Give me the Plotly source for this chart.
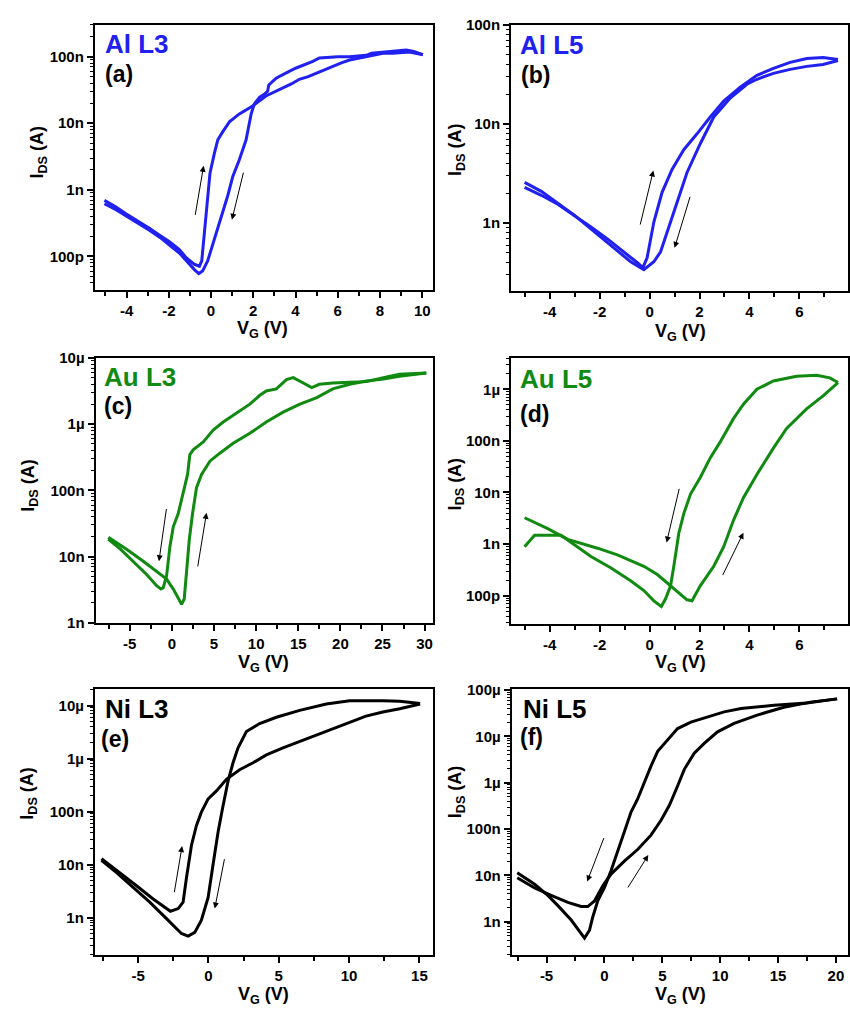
import math
import plotly.graph_objects as go

# ---------------- data (V_G in volts, log10 of I_DS in amperes) ----------------
# (a) Al L3
a_fwd_vg = [-5.05, -4.5, -4.03, -3.5, -2.92, -2.4, -1.97, -1.5, -1.18, -0.8, -0.55, -0.44, -0.32, -0.2, -0.05,
            0.16, 0.32, 0.55, 0.87, 1.34, 1.97, 2.6, 3.0, 3.4, 3.8, 4.18, 4.6, 4.97, 5.4, 5.77, 6.2, 6.56, 7.0,
            7.35, 7.8, 8.14, 8.6, 8.93, 9.4, 10.03]
a_fwd_log = [-9.16, -9.26, -9.36, -9.46, -9.58, -9.69, -9.78, -9.9, -10.02, -10.12, -10.15, -10.07, -9.63, -9.19,
             -8.75, -8.45, -8.25, -8.13, -7.98, -7.86, -7.74, -7.59, -7.53, -7.47, -7.41, -7.34, -7.3, -7.25, -7.19,
             -7.15, -7.09, -7.05, -7.02, -7.0, -6.97, -6.95, -6.95, -6.94, -6.93, -6.97]
a_bwd_vg = [10.03, 9.6, 9.24, 8.7, 8.14, 7.6, 7.35, 6.9, 6.56, 6.0, 5.5, 5.13, 4.82, 4.4, 4.03, 3.7, 3.4, 3.1, 2.92,
            2.73, 2.68, 2.5, 2.29, 2.05, 1.9, 1.66, 1.34, 1.03, 0.79, 0.47, 0.16, -0.16, -0.4, -0.58, -0.79, -1.18,
            -1.5, -1.97, -2.4, -2.92, -3.5, -4.03, -4.5, -5.05]
a_bwd_log = [-6.97, -6.92, -6.9, -6.92, -6.93, -6.95, -6.98, -6.99, -7.0, -7.0, -7.01, -7.02, -7.07, -7.12, -7.17,
             -7.22, -7.27, -7.32, -7.37, -7.43, -7.52, -7.57, -7.61, -7.71, -7.86, -8.25, -8.55, -8.8, -9.09, -9.43,
             -9.73, -10.07, -10.22, -10.26, -10.2, -10.07, -9.95, -9.83, -9.72, -9.61, -9.5, -9.39, -9.3, -9.21]

# (b) Al L5
b_fwd_vg = [-5.01, -4.34, -3.68, -3.02, -2.35, -1.69, -1.02, -0.49, -0.27, -0.1, 0.17, 0.5, 0.9, 1.37, 1.9, 2.43,
            2.97, 3.63, 4.3, 4.96, 5.63, 6.3, 6.95, 7.55]
b_fwd_log = [-8.64, -8.72, -8.81, -8.92, -9.04, -9.16, -9.29, -9.40, -9.45, -9.35, -8.99, -8.69, -8.46, -8.26, -8.1,
             -7.93, -7.77, -7.63, -7.51, -7.44, -7.38, -7.34, -7.33, -7.35]
b_bwd_vg = [7.55, 6.95, 6.3, 5.63, 4.96, 4.3, 3.9, 3.23, 2.57, 2.03, 1.5, 1.1, 0.7, 0.44, 0.17, -0.23, -0.76, -1.56,
            -2.35, -3.02, -3.68, -4.34, -5.01]
b_bwd_log = [-7.36, -7.4, -7.42, -7.45, -7.49, -7.55, -7.6, -7.74, -7.93, -8.2, -8.49, -8.79, -9.09, -9.29, -9.39,
             -9.47, -9.39, -9.22, -9.06, -8.92, -8.8, -8.68, -8.59]

# (c) Au L3
c_fwd_vg = [-7.55, -5.38, -3.4, -1.82, -0.63, 0.16, 0.75, 1.15, 1.46, 1.74, 2.06, 2.45, 2.92, 3.52, 4.51, 5.69, 7.27,
            9.25, 11.2, 13.2, 15.2, 17.2, 19.1, 21.1, 23.1, 25.1, 27.0, 30.2]
c_fwd_log = [-7.71, -7.89, -8.07, -8.23, -8.34, -8.49, -8.63, -8.72, -8.64, -8.24, -7.75, -7.35, -6.96, -6.76, -6.56,
             -6.44, -6.29, -6.14, -5.97, -5.82, -5.70, -5.6, -5.47, -5.4, -5.35, -5.32, -5.28, -5.23]
c_bwd_vg = [30.2, 27.0, 25.1, 23.1, 21.1, 19.1, 17.5, 16.6, 15.6, 14.4, 13.6, 12.4, 11.2, 10.4, 9.25, 7.27, 6.09,
            4.9, 3.72, 2.53, 2.13, 1.86, 1.26, 0.75, 0.16, -0.24, -0.63, -1.03, -1.3, -1.82, -3.0, -4.58, -6.17,
            -7.55]
c_bwd_log = [-5.23, -5.25, -5.3, -5.36, -5.37, -5.38, -5.4, -5.45, -5.38, -5.3, -5.33, -5.47, -5.5, -5.57, -5.7,
             -5.87, -5.97, -6.09, -6.27, -6.39, -6.46, -6.76, -7.06, -7.35, -7.55, -7.85, -8.29, -8.47, -8.49,
             -8.44, -8.27, -8.07, -7.88, -7.74]

# (d) Au L5
d_fwd_vg = [-5.01, -4.08, -3.28, -2.09, -1.29, -0.23, 0.31, 0.84, 1.5, 1.7, 2.03, 2.57, 2.97, 3.36, 3.76, 4.3, 4.96,
            5.49, 6.29, 6.95, 7.55]
d_fwd_log = [-8.49, -8.70, -8.91, -9.08, -9.21, -9.43, -9.59, -9.81, -10.08, -10.1, -9.81, -9.43, -9.05, -8.54, -8.1,
             -7.65, -7.14, -6.76, -6.38, -6.13, -5.87]
d_bwd_vg = [7.55, 7.22, 6.69, 5.89, 4.96, 4.3, 3.76, 3.36, 2.83, 2.43, 2.03, 1.64, 1.37, 1.17, 0.97, 0.84, 0.64,
            0.47, 0.17, -0.23, -0.76, -1.56, -2.35, -3.02, -3.55, -4.2, -4.61, -5.01]
d_bwd_log = [-5.87, -5.78, -5.73, -5.75, -5.84, -6.0, -6.29, -6.57, -7.02, -7.33, -7.71, -8.03, -8.41, -8.79, -9.43,
             -9.81, -10.06, -10.21, -10.1, -9.9, -9.71, -9.46, -9.24, -9.02, -8.83, -8.83, -8.83, -9.05]

# (e) Ni L3
e_fwd_vg = [-7.6, -6.3, -5.11, -3.93, -2.98, -2.7, -2.15, -1.8, -1.56, -1.2, -0.85, -0.5, -0.02, 0.57, 1.28, 2.22,
            3.17, 4.12, 5.3, 6.49, 7.67, 8.85, 10.04, 11.2, 12.4, 13.6, 15.05]
e_fwd_log = [-7.89, -8.15, -8.4, -8.65, -8.83, -8.88, -8.83, -8.71, -8.25, -7.63, -7.26, -7.01, -6.76, -6.61, -6.39,
             -6.21, -6.08, -5.93, -5.8, -5.68, -5.56, -5.43, -5.31, -5.2, -5.12, -5.06, -4.97]
e_bwd_vg = [15.05, 13.6, 12.4, 10.04, 8.38, 6.49, 4.83, 3.64, 2.7, 2.1, 1.75, 1.4, 1.04, 0.69, 0.33, -0.02, -0.5,
            -0.97, -1.44, -1.92, -2.98, -4.17, -5.35, -6.53, -7.6]
e_bwd_log = [-4.96, -4.92, -4.91, -4.91, -4.97, -5.09, -5.22, -5.34, -5.49, -5.8, -6.08, -6.42, -6.89, -7.38, -8.0,
             -8.62, -9.05, -9.28, -9.35, -9.3, -9.02, -8.71, -8.43, -8.15, -7.92]

# (f) Ni L5
f_fwd_vg = [-7.53, -6.03, -4.6, -3.16, -2.01, -1.44, -0.86, -0.14, 0.57, 1.72, 2.87, 4.02, 4.89, 5.6, 6.32, 6.9,
            7.76, 8.62, 9.77, 11.2, 13.2, 15.5, 17.8, 20.1]
f_fwd_log = [-8.05, -8.27, -8.43, -8.58, -8.67, -8.67, -8.55, -8.22, -7.97, -7.69, -7.44, -7.13, -6.81, -6.49, -6.07,
             -5.71, -5.36, -5.15, -4.9, -4.72, -4.54, -4.37, -4.26, -4.19]
f_bwd_vg = [20.1, 17.5, 14.65, 11.8, 10.34, 8.9, 7.47, 6.32, 5.17, 4.6, 4.02, 3.45, 2.87, 2.3, 1.72, 1.15, 0.57, 0.0,
            -0.57, -1.0, -1.29, -1.72, -2.16, -2.87, -4.02, -4.89, -6.03, -7.53]
f_bwd_log = [-4.19, -4.28, -4.33, -4.4, -4.47, -4.58, -4.69, -4.83, -5.15, -5.32, -5.64, -5.99, -6.35, -6.63, -7.06,
             -7.48, -7.9, -8.26, -8.54, -8.89, -9.18, -9.35, -9.21, -8.96, -8.65, -8.43, -8.19, -7.94]

# sweep-direction arrows: (tail V, tail log I, head V, head log I)
a_arrows = [(-0.76, -9.4, -0.35, -8.64), (1.55, -8.72, 0.99, -9.45)]
b_arrows = [(-0.39, -9.03, 0.15, -8.47), (1.64, -8.72, 1.0, -9.25)]
c_arrows = [(-0.63, -7.26, -1.54, -8.07), (3.04, -8.17, 4.11, -7.34)]
d_arrows = [(1.2, -7.9, 0.68, -8.97), (2.9, -9.63, 3.76, -8.78)]
e_arrows = [(-2.44, -8.55, -1.87, -7.65), (1.16, -7.87, 0.45, -8.83)]
f_arrows = [(0.0, -7.16, -1.49, -8.13), (1.95, -8.29, 3.79, -7.56)]

# ---------------- styling / layout ----------------
W, H = 850, 1017
BLUE = "#2020f0"
GREEN = "#108a10"
BLACK = "#000000"
FONT = "Arial, 'Liberation Sans', sans-serif"


def px(x):
    return x / W


def py(y):
    return 1 - y / H


panels = [
    dict(name="Al L3", tag="(a)", color=BLUE, fwd=(a_fwd_vg, a_fwd_log), bwd=(a_bwd_vg, a_bwd_log), arrows=a_arrows,
         box=(95, 433.3, 16, 286), xr=(-5.5, 10.5), yr=(-10.51, -6.52), xmaj=2, xmin=1,
         tpos=(103, 36), lpos=(102.7, 66), ytpos=(39, 145), xtpos=(263, 326)),
    dict(name="Al L5", tag="(b)", color=BLUE, fwd=(b_fwd_vg, b_fwd_log), bwd=(b_bwd_vg, b_bwd_log), arrows=b_arrows,
         box=(511.7, 849.0, 16, 287.3), xr=(-5.55, 7.95), yr=(-9.69, -7.0), xmaj=2, xmin=1,
         tpos=(518.3, 36.2), lpos=(520, 67.5), ytpos=(457, 143), xtpos=(681, 329)),
    dict(name="Au L3", tag="(c)", color=GREEN, fwd=(c_fwd_vg, c_fwd_log), bwd=(c_bwd_vg, c_bwd_log), arrows=c_arrows,
         box=(95.7, 433.3, 354.7, 624.3), xr=(-9.06, 30.97), yr=(-9.0, -5.0), xmaj=5, xmin=2.5,
         tpos=(101.7, 374), lpos=(101.7, 404), ytpos=(30, 484), xtpos=(264, 666)),
    dict(name="Au L5", tag="(d)", color=GREEN, fwd=(d_fwd_vg, d_fwd_log), bwd=(d_bwd_vg, d_bwd_log), arrows=d_arrows,
         box=(511.7, 849.0, 354.7, 625), xr=(-5.55, 7.95), yr=(-10.54, -5.39), xmaj=2, xmin=1,
         tpos=(518.3, 376.3), lpos=(518.3, 411.7), ytpos=(457, 483), xtpos=(681, 666)),
    dict(name="Ni L3", tag="(e)", color=BLACK, fwd=(e_fwd_vg, e_fwd_log), bwd=(e_bwd_vg, e_bwd_log), arrows=e_arrows,
         box=(95, 433.3, 691.7, 962.3), xr=(-8.07, 15.95), yr=(-9.71, -4.69), xmaj=5, xmin=2.5,
         tpos=(102.7, 712), lpos=(99.3, 742), ytpos=(29, 797), xtpos=(264, 1003)),
    dict(name="Ni L5", tag="(f)", color=BLACK, fwd=(f_fwd_vg, f_fwd_log), bwd=(f_bwd_vg, f_bwd_log), arrows=f_arrows,
         box=(512.3, 849.0, 691.7, 962.3), xr=(-8.01, 21.04), yr=(-9.72, -3.98), xmaj=5, xmin=2.5,
         tpos=(521.7, 712), lpos=(518.3, 740), ytpos=(457, 796), xtpos=(681, 1003)),
]


def si_label(e):
    base = 3 * math.floor(e / 3)
    prefix = {-12: "p", -9: "n", -6: "µ", -3: "m"}[base]
    return str(10 ** (e - base)) + prefix


def num_label(v):
    if abs(v - round(v)) < 1e-9:
        return str(int(round(v)))
    return str(v)


fig = go.Figure()
annotations = []
layout = {}

for i, p in enumerate(panels):
    n = "" if i == 0 else str(i + 1)
    xa, ya = "x" + n, "y" + n
    for vg, lg in (p["fwd"], p["bwd"]):
        fig.add_trace(go.Scatter(x=vg, y=[10 ** v for v in lg], xaxis=xa, yaxis=ya, mode="lines",
                                 line=dict(color=p["color"], width=3), showlegend=False, hoverinfo="skip"))

    x0, x1, y0, y1 = p["box"]
    lo, hi = p["xr"]
    maj = p["xmaj"]
    k = math.ceil(lo / maj)
    xt = []
    while k * maj <= hi + 1e-9:
        xt.append(k * maj)
        k += 1
    mi = p["xmin"]
    k = math.ceil(lo / mi)
    xm = []
    while k * mi <= hi + 1e-9:
        v = k * mi
        if all(abs(v - t) > 1e-9 for t in xt):
            xm.append(v)
        k += 1
    ylo, yhi = p["yr"]
    yt_e = [e for e in range(math.ceil(ylo - 1e-6), math.floor(yhi + 1e-6) + 1)]
    ym = []
    for d in range(math.floor(ylo), math.ceil(yhi) + 1):
        for m in range(2, 10):
            lv = d + math.log10(m)
            if ylo < lv < yhi:
                ym.append(m * 10.0 ** d)

    layout["xaxis" + n] = dict(
        domain=[px(x0), min(1.0, px(x1))], range=list(p["xr"]), anchor=ya,
        showline=True, mirror=True, linecolor="black", linewidth=2,
        showgrid=False, zeroline=False,
        tickmode="array", tickvals=xt, ticktext=[num_label(v) for v in xt],
        ticks="outside", ticklen=6, tickwidth=2, tickcolor="black",
        minor=dict(tickmode="array", tickvals=xm, ticks="outside", ticklen=4, tickwidth=2, tickcolor="black",
                   showgrid=False),
        tickfont=dict(family=FONT, size=15, color="black", weight="bold"),
    )
    layout["yaxis" + n] = dict(
        domain=[py(y1), py(y0)], range=list(p["yr"]), type="log", anchor=xa,
        showline=True, mirror=True, linecolor="black", linewidth=2,
        showgrid=False, zeroline=False,
        tickmode="array", tickvals=[10.0 ** e for e in yt_e], ticktext=[si_label(e) for e in yt_e],
        ticks="outside", ticklen=6, tickwidth=2, tickcolor="black",
        minor=dict(tickmode="array", tickvals=ym, ticks="outside", ticklen=3, tickwidth=1, tickcolor="black",
                   showgrid=False),
        tickfont=dict(family=FONT, size=15, color="black", weight="bold"),
    )

    for (tx, tl, hx, hl) in p["arrows"]:
        annotations.append(dict(x=hx, y=hl, ax=tx, ay=tl, xref=xa, yref=ya, axref=xa, ayref=ya,
                                showarrow=True, arrowhead=2, arrowsize=1.2, arrowwidth=1, arrowcolor="black",
                                text=""))
    annotations.append(dict(x=px(p["tpos"][0]), y=py(p["tpos"][1]), xref="paper", yref="paper",
                            xanchor="left", yanchor="middle", showarrow=False, text=p["name"],
                            font=dict(family=FONT, size=26, color=p["color"], weight="bold")))
    annotations.append(dict(x=px(p["lpos"][0]), y=py(p["lpos"][1]), xref="paper", yref="paper",
                            xanchor="left", yanchor="middle", showarrow=False, text=p["tag"],
                            font=dict(family=FONT, size=23, color="black", weight="bold")))
    annotations.append(dict(x=px(p["ytpos"][0]), y=py(p["ytpos"][1]), xref="paper", yref="paper",
                            xanchor="center", yanchor="middle", showarrow=False, textangle=-90,
                            text="I<sub>DS</sub> (A)",
                            font=dict(family=FONT, size=18, color="black", weight="bold")))
    annotations.append(dict(x=px(p["xtpos"][0]), y=py(p["xtpos"][1]), xref="paper", yref="paper",
                            xanchor="center", yanchor="middle", showarrow=False,
                            text="V<sub>G</sub> (V)",
                            font=dict(family=FONT, size=18, color="black", weight="bold")))

fig.update_layout(width=W, height=H, margin=dict(l=0, r=0, t=0, b=0),
                  paper_bgcolor="white", plot_bgcolor="white",
                  annotations=annotations, **layout)

# remove the browser's default 8px page margin so the figure fills the window exactly
fig.write_html("out.html", config={"displayModeBar": False},
               post_script="document.body.style.margin='0';document.body.style.padding='0';"
                           "document.documentElement.style.overflow='hidden';")
